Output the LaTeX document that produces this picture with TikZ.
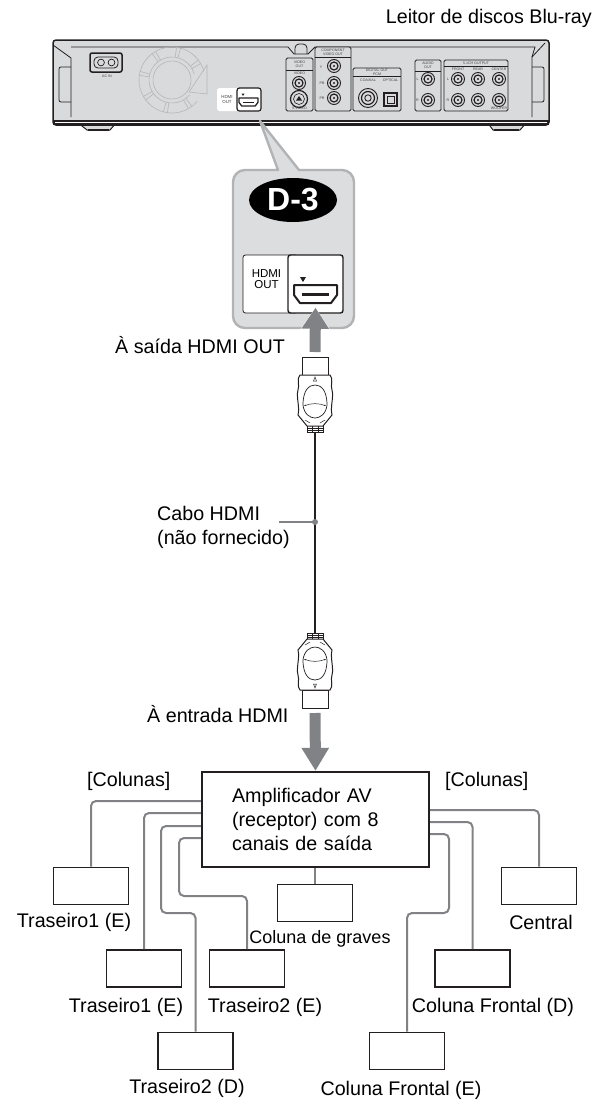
\documentclass[tikz,border=0pt]{standalone}
\usepackage{fontspec}
\setmainfont{Liberation Sans}
\usepackage{xcolor}
\usetikzlibrary{arrows.meta, positioning, shapes.geometric}
\definecolor{inkdark}{HTML}{231F20}
\definecolor{wiregray}{HTML}{808285}
\definecolor{devbody}{HTML}{D9DADB}
\definecolor{fangray}{HTML}{B4B6B8}
\definecolor{calloutedge}{HTML}{B1B3B5}
\definecolor{calloutbg}{HTML}{DCDDDE}

\begin{document}
\begin{tikzpicture}[
  x=1pt, y=-1pt,
  txt/.style={font=\fontsize{19.7}{24}\selectfont, inner sep=0pt, text height=14pt, text depth=4pt},
  small/.style={font=\fontsize{18}{22}\selectfont, inner sep=0pt, text height=14pt, text depth=4pt},
  spk/.style={draw=inkdark, line width=1.9pt, fill=white, minimum width=75pt, minimum height=37pt, inner sep=0pt},
  wire/.style={draw=wiregray, line width=2pt, rounded corners=5pt},
  bigarr/.style={draw=wiregray, line width=11pt},
  panel/.style={draw=inkdark, line width=1pt, fill=white, rounded corners=2.5pt, inner sep=0pt},
  devline/.style={draw=inkdark, line width=0.8pt},
  jack/.style={draw=inkdark, line width=0.9pt, fill=devbody},
  tiny/.style={font=\fontsize{3.6}{4}\selectfont, inner sep=0pt, text=inkdark!85, align=center},
  hdmiport/.pic={
    \draw[draw=inkdark, line width=\pgfkeysvalueof{/tikz/portlw}, fill=white, line join=round]
      (0,0) -- (43,0) -- (43,10) -- (37,18) -- (6,18) -- (0,10) -- cycle;
    \fill[inkdark] (8,8) rectangle (35,10.5);
  },
  portlw/.initial=2pt,
  hdmiplug/.pic={
    \coordinate (-head) at (0,0);
    \coordinate (-tail) at (0,75);
    \draw[inkdark, line width=1pt, fill=white] (-13,0) rectangle (13,18);
    \draw[inkdark, line width=1pt, fill=white] (-8,68) rectangle (8,75);
    \draw[inkdark, line width=0.7pt] (-8,71) -- (8,71) (-8,73) -- (8,73) (-3,68) -- (-3,75) (3,68) -- (3,75);
    \draw[inkdark, line width=1pt, fill=white]
      (-15,18) .. controls (-19,22) and (-15,28) .. (-17,33)
      .. controls (-19,40) and (-15,50) .. (-17,58) -- (-8,69) -- (8,69) -- (17,58)
      .. controls (15,50) and (19,40) .. (17,33)
      .. controls (15,28) and (19,22) .. (15,18) -- cycle;
    \draw[inkdark, line width=0.7pt]
      (-12,48) .. controls (-12,33) and (-6,28) .. (0,28) .. controls (6,28) and (12,33) .. (12,48)
      .. controls (11,57) and (5,61) .. (0,61) .. controls (-5,61) and (-11,57) .. (-12,48);
    \draw[inkdark, line width=0.5pt, {Stealth[length=2pt]}-{Stealth[length=2pt]}]
      (-11,49) .. controls (-4,46) and (4,46) .. (11,49);
    \draw[inkdark, line width=0.5pt] (0,20) -- (-1.5,24) -- (1.5,24) -- cycle;
    \draw[inkdark, line width=0.5pt] (-10,63) -- (-5,66) (10,63) -- (5,66);
  }
]
\useasboundingbox (0,0) rectangle (595,1101);

% Player: rear panel
\node[txt, anchor=base east] (player) at (592,23) {Leitor de discos Blu-ray};
\draw[draw=inkdark, line width=1pt, fill=devbody] (77,122) -- (87,130) -- (110,130) -- (117,122) -- cycle;
\draw[draw=inkdark, line width=1pt, fill=devbody] (487,122) -- (493,130) -- (520,130) -- (527,122) -- cycle;
\draw[inkdark, line width=2pt] (88,130) -- (109,130) (494,130) -- (519,130);
\draw[draw=inkdark, line width=1.5pt, fill=devbody, rounded corners=3pt] (53,40) -- (549,40) -- (549,125) -- (53,125) -- cycle;
\fill[inkdark] (53,120) rectangle (549,125);
\draw[white, line width=0.5pt] (55,122.3) -- (547,122.3);
\draw[devline] (71,117) -- (71,58) -- (53,45);
\draw[devline] (532,117) -- (532,57) -- (545,43);
\draw[devline] (71,47) -- (288,47) -- (294,54) -- (308,54) -- (315,47) -- (535,47) -- (532,57);
\draw[devline, rounded corners=4pt] (295,54) -- (295,44) -- (307,44) -- (307,54);
\draw[devline, rounded corners=2pt] (71,67) -- (59,67) -- (59,102) -- (71,102);
\draw[devline, rounded corners=2pt] (532,67) -- (544,67) -- (544,102) -- (532,102);

% Player: AC inlet
\draw[draw=inkdark, line width=1.5pt, fill=devbody, rounded corners=2pt] (90,53) rectangle (122,72);
\draw[draw=inkdark, line width=0.8pt, rounded corners=4pt] (94,57) rectangle (118,68);
\draw[inkdark, line width=0.7pt] (101,62.5) circle (3.4pt) (111.5,62.5) circle (3.4pt);
\node[tiny] (acin) at (107,76) {AC IN};

% Player: fan
\begin{scope}[shift={(172,80)}, y=1pt, fangray, line width=0.6pt]
  \draw (0,0) circle (19pt);
  \draw (15:23) arc[start angle=15, end angle=320, radius=23pt];
  \draw (15:33) arc[start angle=15, end angle=320, radius=33pt];
  \foreach \ang in {30,75,120,165,210,255,300}
    \draw (\ang:23) -- (\ang:33) (\ang+7:23) -- (\ang+7:33);
  \draw (35,15) -- (35,-14) -- (17,-12) -- cycle;
\end{scope}

% Player: small HDMI socket
\node[panel, draw=none, minimum width=24pt, minimum height=23pt] (miniout) at (229,99.5) {};
\node[panel, line width=1.2pt, minimum width=24pt, minimum height=23pt] (miniport) at (249,99.5) {};
\pic[scale=0.44, portlw=1.3pt] at (239,98) {hdmiport};
\fill[inkdark] (241.5,93.5) -- (244.5,93.5) -- (243,96) -- cycle;
\node[tiny, font=\fontsize{4.4}{4.8}\selectfont] (minilabel) at (227,99.5) {HDMI\\OUT};

% Player: socket groups
\draw[devline, fill=devbody, rounded corners=1.5pt] (286,58) rectangle (313,111);
\draw[devline] (286,70) -- (313,70);
\draw[devline, fill=devbody, rounded corners=1.5pt] (315,47) rectangle (351,111);
\draw[devline] (315,57) -- (351,57);
\draw[devline, fill=devbody, rounded corners=1.5pt] (353,68) rectangle (401,111);
\draw[devline] (353,76) -- (401,76);
\draw[devline, fill=devbody, rounded corners=1.5pt] (415,60) rectangle (441,111);
\draw[devline] (415,71) -- (441,71);
\draw[devline, fill=devbody, rounded corners=1.5pt] (444,60) rectangle (508,111);
\draw[devline] (444,66) -- (508,66);
\foreach \jx/\jy in {299/83,334/66,334/83,334/98,428/79,428/100,458/79,478/79,499/79,458/100,478/100,499/100}{
  \draw[jack] (\jx,\jy) circle (6.5pt);
  \draw[jack, line width=1.2pt] (\jx,\jy) circle (4pt);
  \fill[inkdark] (\jx,\jy) circle (1.2pt);
}
\draw[jack, line width=1.2pt] (299,99) circle (8.5pt);
\draw[jack, line width=0.6pt] (299,99) circle (5.5pt);
\fill[inkdark] (296,100.5) -- (302,100.5) -- (299,96) -- cycle;
\draw[jack] (368,98) circle (9.5pt);
\draw[jack, line width=1.2pt] (368,98) circle (6.5pt);
\draw[jack] (368,98) circle (3.2pt);
\draw[draw=inkdark, line width=1.3pt, fill=devbody] (384,93) rectangle (397,106);
\draw[draw=inkdark, line width=0.7pt] (387,96) rectangle (394,103);
\foreach \lx/\ly/\ltxt [count=\n] in {
  299.5/64/{VIDEO\\OUT}, 299.5/73.5/VIDEO, 299.5/108.5/S VIDEO,
  333/52/{COMPONENT\\VIDEO OUT}, 321/67/Y, 322/83/PB/CB, 322/98/PR/CR,
  377/70/DIGITAL OUT, 377/74/PCM/DTS/DOLBY DIGITAL, 368/80/COAXIAL, 390.5/80/OPTICAL,
  428/65.5/{AUDIO\\OUT}, 417.5/79/L, 417.5/100/R,
  476/63/5.1CH OUTPUT, 458/69.5/FRONT, 478/69.5/REAR, 499/69.5/CENTER,
  448/79/L, 448/100/R, 499/108.5/WOOFER}
  \node[tiny] (jacklbl\n) at (\lx,\ly) {\ltxt};

% Callout with the enlarged socket
\draw[draw=calloutedge, line width=2.4pt, fill=calloutbg, line join=round]
  (299,170) [rounded corners=12pt] -- (354,170) -- (354,328) -- (233,328) -- (233,170) [sharp corners] -- (278,170) -- (260,121) -- cycle;
\node[ellipse, fill=black, text=white, minimum width=88pt, minimum height=44pt, inner sep=0pt,
  font=\fontsize{32}{32}\selectfont\bfseries] (badge) at (293,200) {D-3};
\node[panel, minimum width=55pt, minimum height=58pt, line width=0.8pt] (outlabel) at (270.5,284) {};
\node[panel, minimum width=55pt, minimum height=58pt, line width=1.4pt] (portbox) at (315.5,284) {};
\node[inner sep=0pt, align=center, font=\fontsize{11.5}{10.5}\selectfont] (outtext) at (266.5,279) {HDMI\\OUT};
\pic[portlw=2pt] at (294,285) {hdmiport};
\fill[inkdark] (300,277) -- (306,277) -- (303,282) -- cycle;

% HDMI cable and plugs
\pic (plugA) at (315,357) {hdmiplug};
\pic[yscale=-1] (plugB) at (315,708) {hdmiplug};
\draw[inkdark, line width=1.5pt] (plugA-tail) -- (plugB-tail);
\coordinate (cabledot) at (315,522);
\fill[wiregray] (cabledot) circle (3pt);

% Labels along the cable
\node[txt, anchor=base west] (outtxt) at (115,353) {À saída HDMI OUT};
\node[txt, anchor=base west] (cabo1) at (157,520) {Cabo HDMI};
\node[txt, anchor=base west] (cabo2) at (157,544) {(não fornecido)};
\coordinate (caboend) at (279,522);
\draw[wiregray, line width=1.5pt] (caboend) -- (cabledot);
\node[txt, anchor=base west] (intxt) at (147,722) {À entrada HDMI};

% Amplifier
\node[draw=inkdark, line width=2.3pt, fill=white, minimum width=227pt, minimum height=95pt,
  text width=167pt, inner sep=0pt, align=left, font=\fontsize{19.7}{24}\selectfont] (amp) at (315.5,819.5)
  {Amplificador AV\\(receptor) com 8\\canais de saída};

% Thick arrows
\draw[bigarr, -{Triangle[length=21pt, width=26pt]},
  preaction={draw=white, line width=13.5pt, -{Triangle[length=24pt, width=31pt]}}]
  ([yshift=5pt]plugA-head) -- ([yshift=6pt]portbox.south);
\draw[bigarr, -{Triangle[length=23pt, width=26pt]}] ([yshift=-5pt]plugB-head) -- (amp.north);

% Speakers
\node[spk] (rl) at (91,886) {};
\node[spk] (rlb) at (144,968.5) {};
\node[spk] (bl) at (247,968.5) {};
\node[spk] (br) at (195.5,1051) {};
\node[spk] (sub) at (315,903) {};
\node[spk] (cen) at (539,886) {};
\node[spk] (fr) at (472.5,968.5) {};
\node[spk] (fl) at (407,1051) {};

\node[txt, below=8pt of rl, xshift=-17pt] (rltxt) {Traseiro1 (E)};
\node[txt, below=10pt of rlb, xshift=-18pt] (rlbtxt) {Traseiro1 (E)};
\node[txt, below=10pt of bl, xshift=18pt] (bltxt) {Traseiro2 (E)};
\node[txt, below=9pt of br, xshift=-8.5pt] (brtxt) {Traseiro2 (D)};
\node[small, below=7pt of sub, xshift=5pt] (subtxt) {Coluna de graves};
\node[txt, below=10pt of cen, xshift=2pt] (centxt) {Central};
\node[txt, below=10pt of fr, xshift=20.5pt] (frtxt) {Coluna Frontal (D)};
\node[txt, below=11pt of fl, xshift=-6pt] (fltxt) {Coluna Frontal (E)};

% Speaker wires
\coordinate (bendA) at (161,913);
\coordinate (bendB) at (179,896);
\coordinate (bendC) at (449,913);
\draw[wire] ([yshift=18.5pt]amp.west) -| (rl.north);
\draw[wire] ([yshift=6.5pt]amp.west) -| (rlb.north);
\draw[wire] ([yshift=-6.5pt]amp.west) -| (bendA) -| (br.north);
\draw[wire] ([yshift=-18.5pt]amp.west) -| (bendB) -| (bl.north);
\draw[wire] (amp.south -| sub.north) -- (sub.north);
\draw[wire] ([yshift=9.5pt]amp.east) -| (cen.north);
\draw[wire] ([yshift=-2.5pt]amp.east) -| (fr.north);
\draw[wire] ([yshift=-14.5pt]amp.east) -| (bendC) -| (fl.north);

\node[txt, anchor=base west] (colL) at (87,786) {[Colunas]};
\node[txt, anchor=base west] (colR) at (445,786) {[Colunas]};

\end{tikzpicture}
\end{document}
